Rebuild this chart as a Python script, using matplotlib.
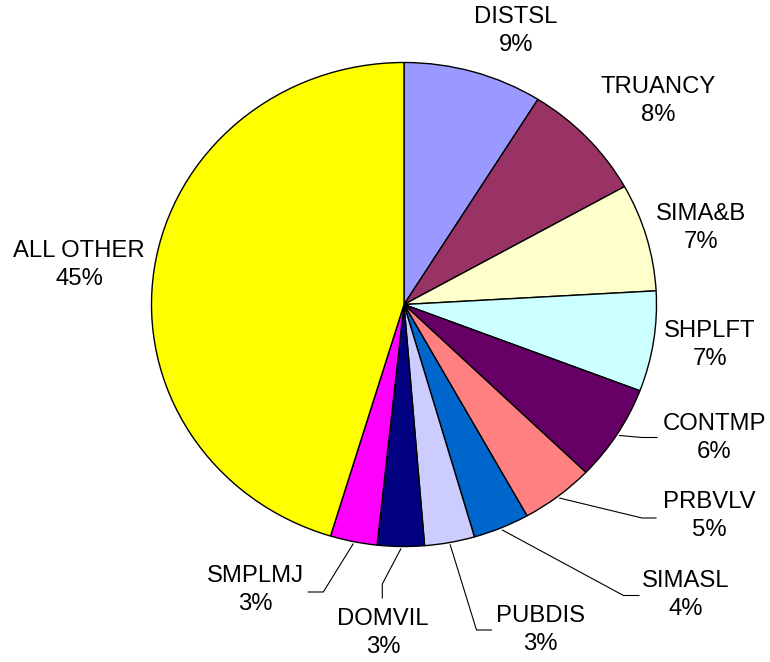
import numpy as np
import matplotlib
matplotlib.use("Agg")
import matplotlib.pyplot as plt

# -----------------------------
# Data
# -----------------------------
categories = ["DISTSL", "TRUANCY", "SIMA&B", "SHPLFT", "CONTMP", "PRBVLV",
              "SIMASL", "PUBDIS", "DOMVIL", "SMPLMJ", "ALL OTHER"]
shares = [8.9, 8.0, 7.2, 6.7, 6.4, 4.7, 3.6, 3.2, 3.0, 3.0, 45.3]
colors = ["#9999FF", "#993366", "#FFFFCC", "#CCFFFF", "#660066", "#FF8080",
          "#0066CC", "#CCCCFF", "#000080", "#FF00FF", "#FFFF00"]

# label centres (pixels, from top-left)
label_pos = [(516, 31), (658, 101), (701, 228), (710, 345), (714, 438),
             (709, 516), (686, 595), (540, 630), (383, 633), (255, 590),
             (79, 265)]
# leader-line elbow points; None = no leader
elbows = [None, None, None, None,
          [(642, 437.5), (657, 437.5)],
          [(642, 518), (656, 518)],
          [(623.5, 595.5), (639, 595.5)],
          [(476.5, 630), (491.5, 630)],
          [(382.3, 584), (382.3, 598)],
          [(323.3, 592), (308.3, 592)],
          None]

W, H = 770, 662
CX, CY, RX, RY = 404, 304.5, 252.5, 242

plt.rcParams["font.family"] = ["Liberation Sans", "DejaVu Sans"]
fig = plt.figure(figsize=(W / 100, H / 100), dpi=100)

# pie axes (slightly elliptical, like the original)
ax = fig.add_axes([(CX - RX) / W, (H - CY - RY) / H, 2 * RX / W, 2 * RY / H])
wedges, _ = ax.pie(shares, colors=colors, startangle=90, counterclock=False,
                   wedgeprops=dict(edgecolor="black", linewidth=1.0))
ax.set_aspect("auto")
ax.set_xlim(-1, 1)
ax.set_ylim(-1, 1)
ax.axis("off")

# overlay in pixel coordinates for labels and leaders
ov = fig.add_axes([0, 0, 1, 1])
ov.set_xlim(0, W)
ov.set_ylim(H, 0)
ov.axis("off")

total = sum(shares)
for w, name, val, (lx, ly), elb in zip(wedges, categories, shares, label_pos, elbows):
    ov.text(lx, ly, f"{name}\n{val / total * 100:.0f}%", ha="center", va="center",
            multialignment="center", fontsize=17.2, linespacing=1.35, color="black")
    if elb is not None:
        mid = np.deg2rad((w.theta1 + w.theta2) / 2)
        sx = CX + RX * 1.01 * np.cos(mid)
        sy = CY - RY * 1.01 * np.sin(mid)
        xs = [sx] + [p[0] for p in elb]
        ys = [sy] + [p[1] for p in elb]
        ov.plot(xs, ys, color="black", linewidth=0.8)

fig.savefig("out.png", dpi=100, facecolor="white")
plt.close(fig)
